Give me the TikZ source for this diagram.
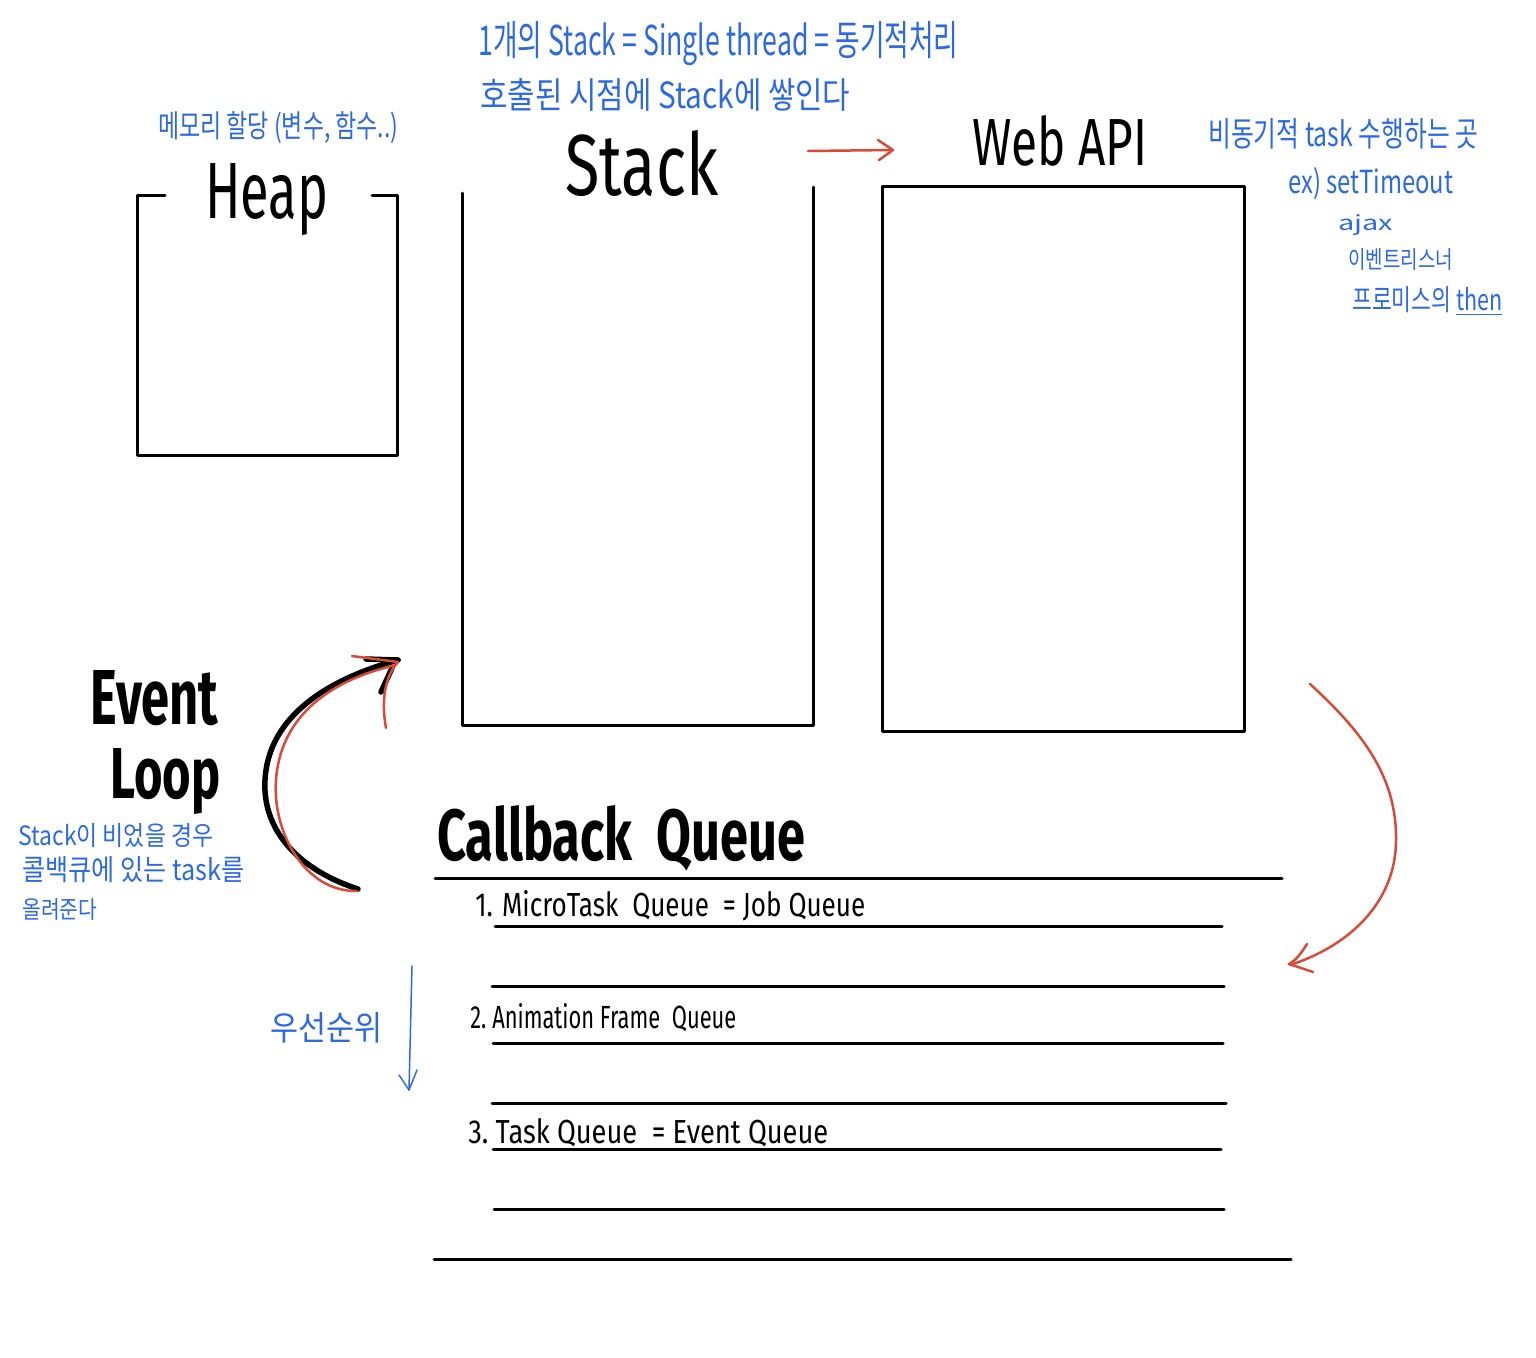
\documentclass[tikz,border=0pt]{standalone}
\usepackage{fontspec}
\setmainfont{Fira Sans}
\newfontfamily\krfont{Noto Sans CJK KR}
\newlength\pxu \setlength\pxu{0.02cm}
\newcommand\fitbox[3]{\resizebox{#1\pxu}{#2\pxu}{#3}}
\definecolor{noteblue}{RGB}{45,105,225}
\definecolor{penred}{RGB}{215,75,55}
\begin{document}
\begin{tikzpicture}[x=0.02cm,y=-0.02cm,
  frame/.style={line width=0.06cm, line cap=round, line join=round},
  note/.style={anchor=base west, inner sep=0pt, text=noteblue, font=\krfont},
  lbl/.style={anchor=base west, inner sep=0pt, text=black},
  redpen/.style={draw=penred, line width=0.05cm, line cap=round, line join=round},
  bluepen/.style={draw=noteblue, line width=0.03cm, line cap=round, line join=round},
  blackpen/.style={draw=black, line width=0.11cm, line cap=round, line join=round}]
\useasboundingbox[fill=white] (0,0) rectangle (1536,1357);

% ---- Heap ----
\draw[frame] (165,195) -- (137,195) -- (137,455) -- (397,455) -- (397,195) -- (372,195);
\node[lbl] (heaplbl) at (205,218) {\fitbox{123}{55}{Heap}};
\node[note] (heapnote) at (158,137) {\fitbox{240}{26}{메모리 할당 (변수, 함수..)}};

% ---- Stack ----
\draw[frame] (462,193) -- (462,725) -- (813,725) -- (813,187);
\node[lbl] (stacklbl) at (565,195) {\fitbox{153}{65}{Stack}};
\node[note] (stacknote1) at (478,55) {\fitbox{480}{34}{1개의 Stack = Single thread = 동기적처리}};
\node[note] (stacknote2) at (480,108) {\fitbox{370}{30}{호출된 시점에 Stack에 쌓인다}};

% ---- Web API ----
\node[draw, frame, anchor=north west, inner sep=0pt, minimum width=362\pxu, minimum height=545\pxu] (webapi) at (881,185) {};
\node[lbl] (webapilbl) at (972,165) {\fitbox{175}{50}{Web API}};
\node[note] (wnote1) at (1208,146) {\fitbox{270}{28}{비동기적 task 수행하는 곳}};
\node[note] (wnote2) at (1288,193) {\fitbox{165}{26}{ex) setTimeout}};
\node[note] (wnote3) at (1338,230) {\fitbox{55}{16}{ajax}};
\node[note] (wnote4) at (1348,268) {\fitbox{105}{20}{이벤트리스너}};
\node[note] (wnote5) at (1352,310) {\fitbox{150}{24}{프로미스의 \underline{then}}};

% arrow stack -> web api
\coordinate (ra1) at (808,151);
\coordinate (ra2) at (893,150);
\draw[redpen] (ra1) -- (ra2);
\draw[redpen] (878,140) -- (ra2) -- (879,160);

% ---- Event Loop ----
\node[lbl] (evlbl) at (90,724) {\fitbox{128}{54}{\bfseries Event}};
\node[lbl] (looplbl) at (110,798) {\fitbox{110}{50}{\bfseries Loop}};
\node[note] (evnote1) at (18,845) {\fitbox{195}{22}{Stack이 비었을 경우}};
\node[note] (evnote2) at (22,880) {\fitbox{222}{24}{콜백큐에 있는 task를}};
\node[note] (evnote3) at (22,918) {\fitbox{75}{20}{올려준다}};

\coordinate (el0) at (358,889);
\coordinate (el1) at (398,660);
\draw[blackpen] (el0) .. controls (305,872) and (262,835) .. (265,780) .. controls (268,722) and (318,682) .. (el1);
\draw[blackpen] (366,659) -- (el1);
\draw[blackpen] (392,668) -- (381,692);
\coordinate (er0) at (357,891);
\coordinate (er1) at (396,665);
\draw[redpen] (er0) .. controls (305,892) and (272,832) .. (276,780) .. controls (280,722) and (322,682) .. (er1);
\draw[redpen] (352,656) -- (398,662) .. controls (385,676) and (381,700) .. (386,728);

% ---- Web API -> Callback Queue ----
\coordinate (rr0) at (1310,684);
\coordinate (rr1) at (1290,965);
\draw[redpen] (rr0) .. controls (1360,730) and (1397,775) .. (1396,840) .. controls (1396,900) and (1352,945) .. (rr1);
\draw[redpen] (1307,944) .. controls (1300,955) and (1296,960) .. (1289,964) -- (1313,972);

% ---- Callback Queue ----
\node[lbl] (cblbl) at (437,860) {\fitbox{368}{55}{\bfseries Callback\ \ Queue}};
\coordinate (cq0a) at (435,878);  \coordinate (cq0b) at (1282,878);
\draw[frame] (cq0a) -- (cq0b);
\coordinate (cq1a) at (495,926);  \coordinate (cq1b) at (1222,926);
\draw[frame] (cq1a) -- (cq1b);
\coordinate (cq2a) at (492,986);  \coordinate (cq2b) at (1224,986);
\draw[frame] (cq2a) -- (cq2b);
\coordinate (cq3a) at (493,1043); \coordinate (cq3b) at (1223,1043);
\draw[frame] (cq3a) -- (cq3b);
\coordinate (cq4a) at (492,1103); \coordinate (cq4b) at (1226,1103);
\draw[frame] (cq4a) -- (cq4b);
\coordinate (cq5a) at (493,1149); \coordinate (cq5b) at (1221,1149);
\draw[frame] (cq5a) -- (cq5b);
\coordinate (cq6a) at (494,1209); \coordinate (cq6b) at (1224,1209);
\draw[frame] (cq6a) -- (cq6b);
\coordinate (cq7a) at (434,1259); \coordinate (cq7b) at (1291,1259);
\draw[frame] (cq7a) -- (cq7b);

\node[lbl] (q1) at (475,916) {\fitbox{390}{26}{1. MicroTask\ \ Queue\ \ = Job Queue}};
\node[lbl] (q2) at (470,1028) {\fitbox{266}{25}{2.\ Animation Frame\ \ Queue}};
\node[lbl] (q3) at (468,1143) {\fitbox{360}{25}{3.\ Task\ Queue\ \ = Event Queue}};

% ---- priority ----
\node[note] (prio) at (270,1040) {\fitbox{112}{28}{우선순위}};
\coordinate (pa0) at (412,966);
\coordinate (pa1) at (409,1090);
\draw[bluepen] (pa0) -- (pa1);
\draw[bluepen] (399,1075) -- (pa1) -- (417,1070);
\end{tikzpicture}
\end{document}
